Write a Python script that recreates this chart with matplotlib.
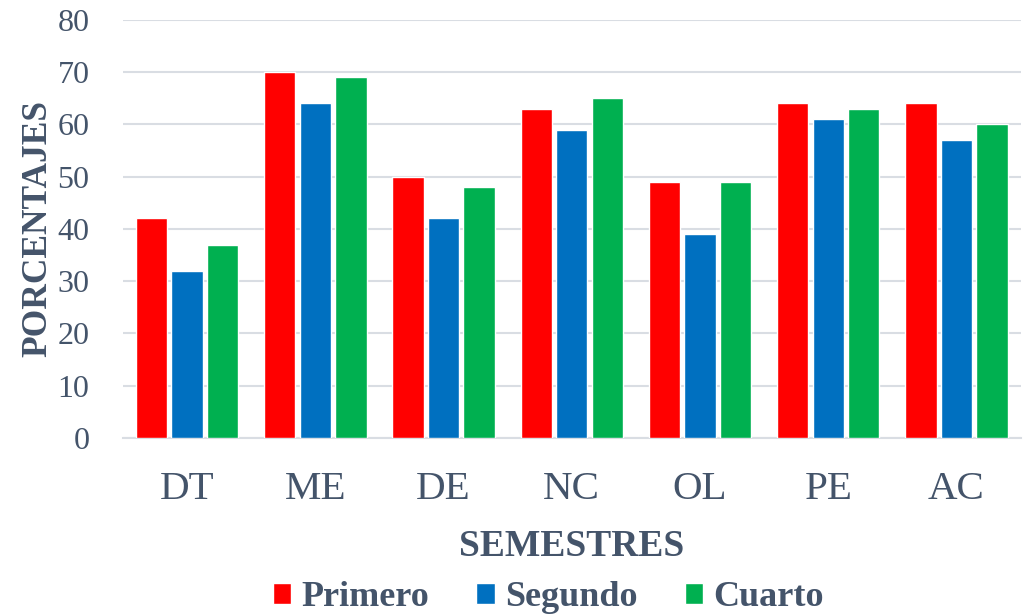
import matplotlib
matplotlib.use("Agg")
import matplotlib.pyplot as plt
import numpy as np

categorias = ["DT", "ME", "DE", "NC", "OL", "PE", "AC"]
primero = [42, 70, 50, 63, 49, 64, 64]
segundo = [32, 64, 42, 59, 39, 61, 57]
cuarto = [37, 69, 48, 65, 49, 63, 60]
series = ["Primero", "Segundo", "Cuarto"]
colores = ["#FF0000", "#0070C0", "#00B050"]
texto = "#44546A"

plt.rcParams["font.family"] = ["Liberation Serif", "DejaVu Serif"]

fig = plt.figure(figsize=(10.33, 6.16), dpi=100)
ax = fig.add_axes([0.119, 0.289, 0.869, 0.679])

x = np.arange(len(categorias))
paso = 0.277
for i, (vals, nombre, c) in enumerate(zip([primero, segundo, cuarto], series, colores)):
    ax.bar(x + (i - 1) * paso, vals, 0.245, color=c, edgecolor="white", linewidth=1.0,
           label=nombre, zorder=3)

ax.set_xlim(-0.5, len(categorias) - 0.5)
ax.set_ylim(0, 80)
ax.set_yticks(range(0, 81, 10))
ax.set_xticks(x)
ax.set_xticklabels(categorias)
ax.grid(axis="y", color="#D9DDE3", linewidth=1.5, zorder=0)
for s in ["top", "right", "left"]:
    ax.spines[s].set_visible(False)
ax.spines["bottom"].set_color("#D9DDE3")
ax.spines["bottom"].set_linewidth(1.5)
ax.tick_params(axis="both", length=0, colors=texto)
ax.tick_params(axis="y", labelsize=23, pad=24)
ax.tick_params(axis="x", labelsize=29.5, pad=24)

ax.set_ylabel("PORCENTAJES", fontsize=25.5, fontweight="bold", color=texto, labelpad=2)
ax.set_xlabel("SEMESTRES", fontsize=27, fontweight="bold", color=texto, labelpad=15)

leg = fig.legend(loc="lower center", bbox_to_anchor=(0.531, -0.05), ncol=3, frameon=False,
                 prop={"size": 26, "weight": "bold"}, handlelength=0.5, handleheight=0.5,
                 handletextpad=0.3, columnspacing=1.3)
for t in leg.get_texts():
    t.set_color(texto)

fig.savefig("out.png", dpi=100)
